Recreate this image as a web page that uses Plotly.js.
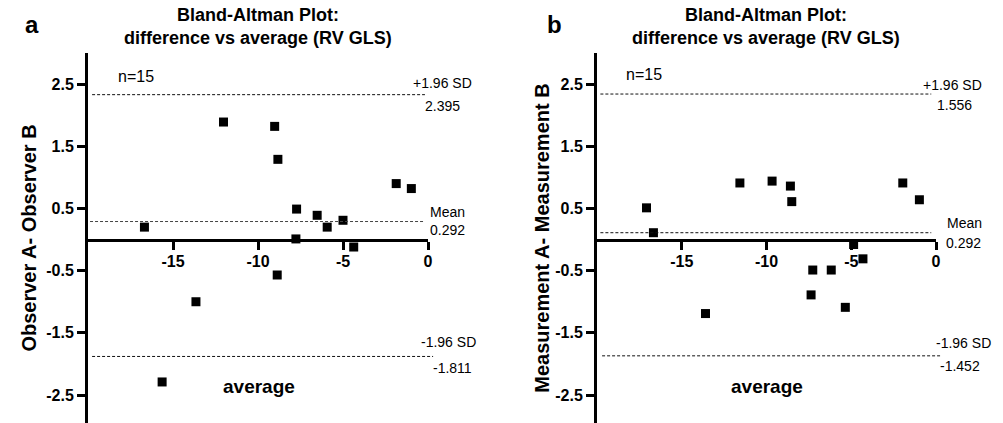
<!DOCTYPE html>
<html>
<head>
<meta charset="utf-8">
<script src="https://cdn.plot.ly/plotly-3.0.1.min.js"></script>
<style>html,body{margin:0;padding:0;background:#fff;}#chart{width:1003px;height:423px;}</style>
</head>
<body>
<div id="chart"></div>
<script>
// ---- data ----
const xA = [-16.68, -12.03, -9.02, -8.83, -7.73, -6.52, -5.93, -5.00, -7.77, -4.37, -1.87, -0.98, -8.87, -13.65, -15.64];
const yA = [0.20, 1.89, 1.82, 1.29, 0.49, 0.39, 0.20, 0.31, 0.01, -0.12, 0.90, 0.82, -0.57, -1.00, -2.29];
const xB = [-17.08, -16.67, -11.57, -9.67, -8.59, -8.51, -1.96, -0.98, -4.86, -4.31, -7.27, -6.18, -7.37, -5.35, -13.60];
const yB = [0.51, 0.11, 0.91, 0.94, 0.86, 0.61, 0.91, 0.64, -0.08, -0.31, -0.49, -0.49, -0.89, -1.09, -1.19];

const limitsA = [2.33, 0.29, -1.88];   // drawn positions of +1.96 SD, mean, -1.96 SD
const limitsB = [2.34, 0.11, -1.87];
const labelsA = ["+1.96 SD", "2.395", "Mean", "0.292", "-1.96 SD", "-1.811"];
const labelsB = ["+1.96 SD", "1.556", "Mean", "0.292", "-1.96 SD", "-1.452"];

const xTicks = [-15, -10, -5, 0];
const yTicks = [-2.5, -1.5, -0.5, 0.5, 1.5, 2.5];
const titleText = "Bland-Altman Plot:<br>difference vs average (RV GLS)";
const yTitleA = "Observer A- Observer B";
const yTitleB = "Measurement A- Measurement B";
const xLabel = "average";
const nLabel = "n=15";

// ---- layout ----
const FONT = "Liberation Sans, Arial, Helvetica, sans-serif";
const xRange = [-20, 0];
const yRange = [-2.95, 3];
const zeroPos = (0 - yRange[0]) / (yRange[1] - yRange[0]);

function xAxis(domain) {
  return {
    domain: domain, range: xRange, anchor: 'free', position: zeroPos,
    showline: true, linewidth: 3, linecolor: '#000', mirror: false,
    ticks: 'outside', ticklen: 8, tickwidth: 3, tickcolor: '#000',
    ticklabelstandoff: -2,
    tickvals: xTicks, ticktext: xTicks.map(String),
    tickfont: {family: FONT, size: 16, color: '#000', weight: 'bold'},
    showgrid: false, zeroline: false, fixedrange: true
  };
}
function yAxis(anchor, title, standoff) {
  return {
    domain: [0, 1], range: yRange, anchor: anchor,
    showline: true, linewidth: 3, linecolor: '#000',
    ticks: 'outside', ticklen: 8, tickwidth: 3, tickcolor: '#000',
    tickvals: yTicks, ticktext: yTicks.map(String),
    tickfont: {family: FONT, size: 16, color: '#000', weight: 'bold'},
    title: {text: title, font: {family: FONT, size: 20, color: '#000', weight: 'bold'}, standoff: standoff},
    showgrid: false, zeroline: false, fixedrange: true
  };
}

const traces = [
  {x: xA, y: yA, xaxis: 'x', yaxis: 'y', type: 'scatter', mode: 'markers',
   marker: {symbol: 'square', size: 9, color: '#000'}, cliponaxis: false, hoverinfo: 'x+y'},
  {x: xB, y: yB, xaxis: 'x2', yaxis: 'y2', type: 'scatter', mode: 'markers',
   marker: {symbol: 'square', size: 9, color: '#000'}, cliponaxis: false, hoverinfo: 'x+y'}
];

// horizontal extents of the dashed lines (fraction of each x axis)
const lineExtA = [[0.012, 0.991], [0.006, 0.991], [0.012, 1.015]];
const lineExtB = [[0.010, 0.986], [0.010, 0.986], [0.015, 1.012]];
const shapes = [];
limitsA.forEach((v, i) => shapes.push({type: 'line', xref: 'x domain', yref: 'y',
  x0: lineExtA[i][0], x1: lineExtA[i][1], y0: v, y1: v,
  line: {color: i === 1 ? '#444' : '#111', width: 1, dash: '3px,2px'}}));
limitsB.forEach((v, i) => shapes.push({type: 'line', xref: 'x2 domain', yref: 'y2',
  x0: lineExtB[i][0], x1: lineExtB[i][1], y0: v, y1: v,
  line: {color: '#111', width: 1, dash: '3px,2px'}}));

// label positions: x as fraction of the x axis, y in data units
const labPosA = [[1.044, 2.51], [1.044, 2.14], [1.057, 0.45], [1.056, 0.16], [1.059, -1.64], [1.072, -2.06]];
const labPosB = [[1.050, 2.48], [1.056, 2.17], [1.083, 0.27], [1.081, -0.06], [1.080, -1.66], [1.071, -2.03]];
const small = {family: FONT, size: 14, color: '#000'};
const ann = [];
labelsA.forEach((t, i) => ann.push({text: t, xref: 'x domain', yref: 'y', x: labPosA[i][0], y: labPosA[i][1],
  showarrow: false, xanchor: 'center', yanchor: 'middle', font: small}));
labelsB.forEach((t, i) => ann.push({text: t, xref: 'x2 domain', yref: 'y2', x: labPosB[i][0], y: labPosB[i][1],
  showarrow: false, xanchor: 'center', yanchor: 'middle', font: small}));
const nFont = {family: FONT, size: 16, color: '#000'};
ann.push({text: nLabel, xref: 'x', yref: 'y', x: -17.16, y: 2.62, showarrow: false, font: nFont});
ann.push({text: nLabel, xref: 'x2', yref: 'y2', x: -17.2, y: 2.65, showarrow: false, font: nFont});
const avgFont = {family: FONT, size: 19, color: '#000', weight: 'bold'};
ann.push({text: xLabel, xref: 'x', yref: 'y', x: -9.96, y: -2.36, showarrow: false, font: avgFont});
ann.push({text: xLabel, xref: 'x2', yref: 'y2', x: -10, y: -2.36, showarrow: false, font: avgFont});
const titleFont = {family: FONT, size: 18, color: '#000', weight: 'bold'};
ann.push({text: titleText, xref: 'paper', yref: 'paper', x: 0.2572, y: 1.0703, xanchor: 'center', yanchor: 'middle', showarrow: false, font: titleFont});
ann.push({text: titleText, xref: 'paper', yref: 'paper', x: 0.7637, y: 1.0703, xanchor: 'center', yanchor: 'middle', showarrow: false, font: titleFont});
const letterFont = {family: FONT, size: 24, color: '#000', weight: 'bold'};
ann.push({text: 'a', xref: 'paper', yref: 'paper', x: 0.0319, y: 1.0757, xanchor: 'center', yanchor: 'middle', showarrow: false, font: letterFont});
ann.push({text: 'b', xref: 'paper', yref: 'paper', x: 0.5533, y: 1.0757, xanchor: 'center', yanchor: 'middle', showarrow: false, font: letterFont});

const layout = {
  width: 1003, height: 423,
  margin: {l: 0, r: 0, t: 53, b: 0, pad: 0},
  paper_bgcolor: '#fff', plot_bgcolor: '#fff',
  showlegend: false,
  font: {family: FONT, color: '#000'},
  xaxis: xAxis([88 / 1003, 428 / 1003]),
  yaxis: yAxis('x', yTitleA, 5),
  xaxis2: xAxis([597 / 1003, 936 / 1003]),
  yaxis2: yAxis('x2', yTitleB, 1),
  shapes: shapes,
  annotations: ann
};

Plotly.newPlot('chart', traces, layout, {displayModeBar: false, staticPlot: true});
</script>
</body>
</html>
